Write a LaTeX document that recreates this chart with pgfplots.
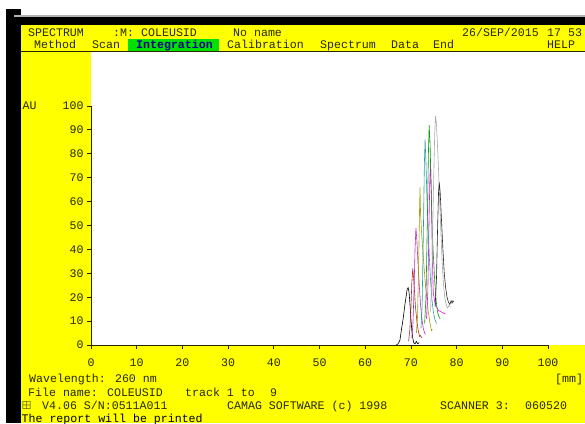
\documentclass[border=0pt]{standalone}
\usepackage{amssymb}
\usepackage{fontspec}
\setmainfont{Liberation Mono}
\usepackage{pgfplots}
\pgfplotsset{compat=1.18}
\definecolor{scryellow}{RGB}{255,255,0}
\definecolor{scrtext}{RGB}{40,40,0}
\definecolor{scrgreen}{RGB}{0,225,0}
\definecolor{scrblue}{RGB}{0,0,140}
\definecolor{tA}{RGB}{0,0,0}
\definecolor{tB}{RGB}{175,45,45}
\definecolor{tC}{RGB}{180,50,190}
\definecolor{tD}{RGB}{160,160,0}
\definecolor{tE}{RGB}{40,160,160}
\definecolor{tF}{RGB}{20,150,20}
\definecolor{tG}{RGB}{255,0,255}
\definecolor{tH}{RGB}{170,170,170}
\definecolor{tI}{RGB}{40,40,40}
\newcommand{\sz}{\fontsize{11.6bp}{13bp}\selectfont}
\begin{document}
\begin{tikzpicture}[x=1bp,y=1bp]
\useasboundingbox (0,0) rectangle (585,423);
\fill[white] (0,0) rectangle (585,423);
\fill[black] (6,0) rectangle (21,414);
\fill[gray!60] (14,406) rectangle (585,407.5);
\fill[black] (14,398) rectangle (585,406);
\fill[scryellow] (21,0) rectangle (585,398);
\fill[white] (91,78) rectangle (585,372);
\fill[scrgreen] (128,372) rectangle (219,384.5);
\draw[scrtext, line width=1bp] (21,372) -- (585,372);
\begin{scope}[every node/.style={anchor=base west, inner sep=0pt, text=scrtext, font=\sz}]
\node at (28,387) {SPECTRUM};
\node at (113,387) {:M:};
\node at (141,387) {COLEUSID};
\node at (233,387) {No name};
\node at (462,387) {26/SEP/2015};
\node at (547,387) {17};
\node at (568,387) {53};
\node at (34,374.5) {Method};
\node at (92,374.5) {Scan};
\node[text=scrblue] at (136,374.5) {\bfseries Integration};
\node at (227,374.5) {Calibration};
\node at (320,374.5) {Spectrum};
\node at (391,374.5) {Data};
\node at (433,374.5) {End};
\node at (547,374.5) {HELP};
\node at (22.5,313.7) {AU};
\node at (555,41) {[mm]};
\node at (29,40.3) {Wavelength: 260 nm};
\node at (28,27) {File name: COLEUSID};
\node at (185,27) {track 1 to};
\node at (270,27) {9};
\node at (22,14) {$\boxplus$};
\node at (42,14) {V4.06 S/N:0511A011};
\node at (227,14) {CAMAG SOFTWARE (c) 1998};
\node at (440,14) {SCANNER 3:};
\node at (525,14) {060520};
\node[text=black] at (21.5,0.8) {The report will be printed};
\end{scope}
\begin{axis}[at={(91bp,78bp)}, anchor=south west, scale only axis,
  width=457bp, height=239bp,
  xmin=0, xmax=100, ymin=0, ymax=100,
  axis x line=bottom, axis y line=left,
  axis line style={-, line width=0.8bp, scrtext},
  xtick={0,10,...,100}, ytick={0,10,...,100},
  tick align=outside, major tick length=4bp,
  tick style={scrtext, line width=0.8bp},
  ticklabel style={font=\sz, text=scrtext},
  /pgf/number format/assume math mode=true,
  xticklabel style={anchor=base, yshift=-17bp},
  clip=false,
  every axis plot/.append style={line width=0.6bp, no marks}]
% track 1
\addplot[tA] coordinates {(66.8,0)(67.2,0.5)(67.6,2)(67.9,6)(68.3,11)(68.7,17)(69.0,21)(69.2,23.5)(69.4,24)(69.6,22)(69.8,17)(70.0,11)(70.2,6)(70.4,3)(70.6,1)(70.9,0.5)(71.2,1.5)(71.5,0.5)(71.8,1)};
% track 2
\addplot[tB] coordinates {(69.5,1.5)(69.75,6)(70.0,15)(70.2,26)(70.4,32)(70.6,28)(70.8,22)(71.0,16)(71.3,10)(71.6,6)(71.9,3.5)(72.1,4)(72.4,3)};
% track 3
\addplot[tC] coordinates {(70.2,3)(70.45,9)(70.7,24)(70.9,40)(71.1,49)(71.3,44)(71.5,36)(71.8,26)(72.1,17)(72.4,11)(72.7,7)(73.0,5)(73.2,4.5)};
% track 4
\addplot[tD] coordinates {(71.2,5)(71.45,12)(71.7,34)(71.9,58)(72.0,66)(72.1,56)(72.3,48)(72.7,37)(73.1,27)(73.5,19)(73.8,14)(74.1,10)(74.5,6)(74.7,6.5)};
% track 7 (drawn early so the others cover it)
\addplot[tG] coordinates {(73.4,11)(73.7,22)(73.95,50)(74.15,70)(74.3,76)(74.5,60)(74.7,35)(74.9,22)(75.2,18)(75.6,16)(76.0,14.5)(76.5,14)(77.0,13.5)(77.5,13)};
% track 5
\addplot[tE] coordinates {(72.2,7)(72.45,16)(72.7,44)(72.95,76)(73.1,86)(73.3,76)(73.5,62)(73.7,52)(74.0,38)(74.3,27)(74.6,19)(74.9,14)(75.2,11)(75.6,9)};
% track 6
\addplot[tF] coordinates {(73.0,9)(73.3,20)(73.6,52)(73.85,82)(74.0,92)(74.2,84)(74.4,68)(74.6,52)(74.9,38)(75.2,27)(75.5,19)(75.8,14)(76.1,12)(76.4,11)};
% track 8
\addplot[tH] coordinates {(74.3,14)(74.6,30)(74.9,62)(75.2,88)(75.4,96)(75.6,92)(75.9,80)(76.2,66)(76.5,50)(76.8,36)(77.1,26)(77.4,20)(77.7,17)(78.0,15.5)(78.3,16.5)(78.6,16)};
% track 9
\addplot[tI] coordinates {(75.3,16)(75.6,28)(75.85,50)(76.05,64)(76.2,68)(76.4,64)(76.7,52)(77.0,40)(77.3,30)(77.6,24)(77.9,20)(78.2,18)(78.5,17)(78.8,18.5)(79.0,17.5)(79.2,18.5)(79.4,18)};
\end{axis}
\end{tikzpicture}
\end{document}
